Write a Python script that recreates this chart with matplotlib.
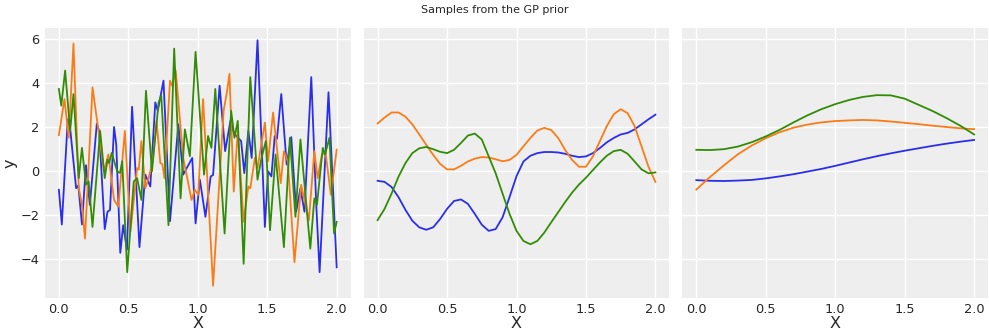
import numpy as np
import matplotlib.pyplot as plt

# colours of the arviz-darkgrid cycle
C_BLUE = "#2a2eec"
C_ORANGE = "#fa7c17"
C_GREEN = "#328c06"

# --- panel 1: short lengthscale ---
p1_blue_x = [0.0, 0.021, 0.064, 0.083, 0.124, 0.14, 0.166, 0.195, 0.223, 0.273, 0.29, 0.33, 0.35,
             0.368, 0.397, 0.413, 0.442, 0.463, 0.49, 0.527, 0.553, 0.58, 0.622, 0.658, 0.694,
             0.712, 0.753, 0.80, 0.86, 0.895, 0.96, 0.984, 1.015, 1.055, 1.093, 1.11, 1.157,
             1.197, 1.235, 1.26, 1.312, 1.335, 1.364, 1.388, 1.43, 1.483, 1.506, 1.53, 1.554,
             1.57, 1.601, 1.64, 1.673, 1.708, 1.739, 1.768, 1.817, 1.853, 1.877, 1.941, 2.0]
p1_blue_y = [-0.87, -2.45, 2.34, 1.81, -0.80, -0.67, -2.45, 0.25, -1.56, 2.14, 1.81, -2.66, -1.87,
             -1.79, 1.99, 1.19, -3.74, -2.48, -3.6, 2.91, -0.2, -3.48, -0.18, -0.72, 3.11,
             2.73, 4.1, -2.3, 2.11, -0.18, 0.58, -2.4, -0.41, -2.1, -0.26, -0.2, 3.87,
             0.89, 2.27, 1.7, 1.35, -0.11, 1.81, 0.58, 5.94, -2.56, -0.03, -0.26, 1.58,
             1.45, 3.49, 0.28, 1.53, -1.87, -0.8, -1.87, 4.26, -1.56, -4.62, 3.57, -4.4]

p1_orange_x = [0.0, 0.04, 0.071, 0.105, 0.143, 0.166, 0.188, 0.242, 0.325, 0.356, 0.397, 0.428,
               0.475, 0.515, 0.563, 0.575, 0.594, 0.622, 0.646, 0.675, 0.703, 0.73, 0.745, 0.76,
               0.8, 0.815, 0.841, 0.895, 0.955, 0.979, 1.003, 1.038, 1.11, 1.186, 1.21, 1.228,
               1.259, 1.288, 1.33, 1.364, 1.378, 1.411, 1.43, 1.483, 1.506, 1.542, 1.597, 1.62,
               1.648, 1.696, 1.744, 1.8, 1.839, 1.863, 1.894, 1.92, 1.958, 2.0]
p1_orange_y = [1.62, 3.26, 1.5, 5.79, -0.8, -1.56, -3.09, 3.8, -0.03, 0.74, -1.33, -1.64,
               1.81, -2.79, 0.12, 0.05, 1.35, -0.8, -0.34, 0.43, 2.27, 0.35, 0.3, -0.34,
               4.1, 3.87, 4.56, 0.58, -1.33, -0.87, -1.1, 3.26, -5.24, 2.73, 3.6, 4.41,
               -0.95, 1.81, -2.33, -0.72, -0.8, 0.58, 0.12, 2.19, 0.43, 2.65, -0.57, 0.89,
               0.43, -4.17, -0.64, -2.25, 0.89, -0.34, 0.74, 0.81, -1.1, 0.96]

p1_green_x = [0.0, 0.017, 0.045, 0.081, 0.105, 0.143, 0.166, 0.195, 0.214, 0.242, 0.297, 0.33,
              0.35, 0.362, 0.38, 0.42, 0.44, 0.456, 0.492, 0.539, 0.563, 0.594, 0.627, 0.67,
              0.718, 0.737, 0.789, 0.83, 0.876, 0.907, 0.943, 0.984, 1.045, 1.074, 1.098,
              1.126, 1.193, 1.24, 1.264, 1.288, 1.33, 1.378, 1.43, 1.459, 1.49, 1.52, 1.56,
              1.62, 1.663, 1.703, 1.739, 1.81, 1.839, 1.858, 1.9, 1.916, 1.948, 1.981, 2.0]
p1_green_y = [3.72, 2.96, 4.56, 1.81, 3.49, -0.34, 1.04, -0.64, -0.49, -2.56, 1.81, -0.34,
              0.5, 0.35, 0.81, -0.03, -0.1, 0.43, -4.62, -0.49, -0.34, -1.33, 3.64, -0.03,
              3.11, 3.41, -2.48, 5.56, -1.26, 1.88, 0.66, 5.41, -0.18, 1.58, 1.04,
              3.72, -2.86, 2.73, 1.5, 2.27, -4.24, 4.26, -0.41, 0.58, 1.35, -2.71, 0.74,
              -3.48, 1.5, -2.1, 1.42, -3.55, -1.26, -1.55, 1.04, 0.74, 1.5, -2.86, -2.33]

# --- panel 2: medium lengthscale, sampled every 0.05 ---
p2_x = np.linspace(0, 2, 41)
p2_orange = [2.15, 2.42, 2.65, 2.65, 2.46, 2.11, 1.65, 1.18, 0.72, 0.31, 0.06, 0.06, 0.22, 0.42,
             0.55, 0.62, 0.60, 0.52, 0.43, 0.49, 0.72, 1.11, 1.49, 1.83, 1.95, 1.85, 1.49, 0.95,
             0.49, 0.18, 0.18, 0.65, 1.34, 2.03, 2.57, 2.80, 2.62, 2.03, 1.11, 0.18, -0.51]
p2_green = [-2.25, -1.74, -1.05, -0.28, 0.34, 0.80, 1.02, 1.08, 0.98, 0.86, 0.80, 0.95, 1.26,
            1.60, 1.69, 1.42, 0.65, -0.12, -1.05, -1.97, -2.74, -3.20, -3.35, -3.20, -2.82,
            -2.35, -1.89, -1.43, -1.00, -0.63, -0.32, 0.03, 0.37, 0.68, 0.89, 0.95, 0.77, 0.42,
            0.06, -0.12, -0.08]
p2_blue = [-0.46, -0.51, -0.74, -1.20, -1.78, -2.28, -2.58, -2.69, -2.58, -2.20, -1.74, -1.38,
           -1.31, -1.51, -1.97, -2.46, -2.74, -2.66, -2.12, -1.20, -0.25, 0.42, 0.68, 0.80, 0.85,
           0.85, 0.83, 0.77, 0.68, 0.62, 0.65, 0.80, 1.03, 1.29, 1.49, 1.65, 1.72, 1.88, 2.11,
           2.34, 2.55]

# --- panel 3: long lengthscale, sampled every 0.1 ---
p3_x = np.linspace(0, 2, 21)
p3_green = [0.95, 0.94, 0.98, 1.10, 1.30, 1.56, 1.86, 2.20, 2.52, 2.80, 3.03, 3.22, 3.36, 3.44,
            3.43, 3.28, 3.00, 2.72, 2.40, 2.05, 1.65]
p3_orange = [-0.86, -0.28, 0.25, 0.75, 1.15, 1.48, 1.75, 1.96, 2.10, 2.20, 2.26, 2.29, 2.31,
             2.29, 2.24, 2.18, 2.12, 2.05, 1.99, 1.93, 1.89]
p3_blue = [-0.43, -0.46, -0.47, -0.45, -0.42, -0.35, -0.26, -0.16, -0.04, 0.08, 0.22, 0.37,
           0.52, 0.66, 0.79, 0.91, 1.02, 1.13, 1.23, 1.32, 1.40]

plt.rcParams.update({
    "font.family": ["DejaVu Sans"],
    "axes.facecolor": "#eeeeee",
    "axes.edgecolor": "white",
    "axes.grid": True,
    "grid.color": "white",
    "grid.linewidth": 1.0,
    "axes.labelcolor": "#262626",
    "xtick.color": "#262626",
    "ytick.color": "#262626",
    "xtick.major.size": 0,
    "ytick.major.size": 0,
    "xtick.major.pad": 3.5,
    "ytick.major.pad": 4,
    "xtick.labelsize": 9.3,
    "ytick.labelsize": 9.3,
    "axes.labelsize": 11.5,
})

fig, axes = plt.subplots(1, 3, figsize=(9.89, 3.33), dpi=100, sharey=True)
fig.subplots_adjust(left=0.0455, right=0.999, bottom=0.105, top=0.916, wspace=0.043)

lw = 1.3
ax = axes[0]
ax.plot(p1_blue_x, p1_blue_y, color=C_BLUE, lw=lw)
ax.plot(p1_orange_x, p1_orange_y, color=C_ORANGE, lw=lw)
ax.plot(p1_green_x, p1_green_y, color=C_GREEN, lw=lw)
ax.set_ylabel("y", labelpad=2)

ax = axes[1]
ax.plot(p2_x, p2_blue, color=C_BLUE, lw=lw)
ax.plot(p2_x, p2_orange, color=C_ORANGE, lw=lw)
ax.plot(p2_x, p2_green, color=C_GREEN, lw=lw)

ax = axes[2]
ax.plot(p3_x, p3_blue, color=C_BLUE, lw=lw)
ax.plot(p3_x, p3_orange, color=C_ORANGE, lw=lw)
ax.plot(p3_x, p3_green, color=C_GREEN, lw=lw)

for ax in axes:
    ax.set_xlabel("X", labelpad=0)
    ax.set_xticks([0.0, 0.5, 1.0, 1.5, 2.0])
    for s in ax.spines.values():
        s.set_visible(False)
axes[0].set_yticks([-4, -2, 0, 2, 4, 6])

fig.suptitle("Samples from the GP prior", fontsize=8, y=0.985, color="#262626")

fig.savefig("out.png", dpi=100)
